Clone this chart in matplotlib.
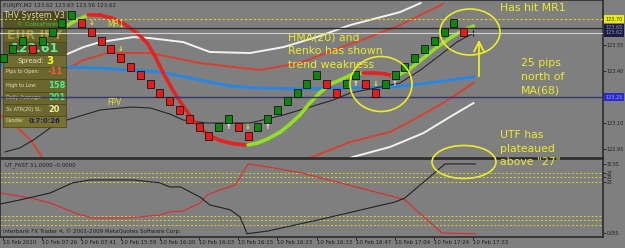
import matplotlib
matplotlib.use("Agg")
import matplotlib.pyplot as plt
from matplotlib.patches import Rectangle, Ellipse
from matplotlib.collections import LineCollection

plt.rcParams['font.family'] = ['DejaVu Sans']
NARROW = ['Liberation Sans Narrow', 'DejaVu Sans']

# ------------------------- data -------------------------

# renko bricks: mid price of each brick, G = up brick, R = down brick
brick_mid = [123.475, 123.525, 123.575, 123.525, 123.575, 123.625, 123.675, 123.725,
             123.675, 123.625, 123.575, 123.525, 123.475, 123.425, 123.375, 123.325,
             123.275, 123.225, 123.175, 123.125, 123.075, 123.025, 123.075, 123.125,
             123.075, 123.025, 123.075, 123.125, 123.175, 123.225, 123.275, 123.325,
             123.375, 123.325, 123.275, 123.325, 123.375, 123.325, 123.275, 123.325,
             123.375, 123.425, 123.475, 123.525, 123.575, 123.625, 123.675, 123.625]
brick_dir = "GGGRGGGGRRRRRRRRRRRRRRGGRRGGGGGGGRRGGRRGGGGGGGGR"

# small signal arrows next to the bricks (U = white up arrow, D = yellow down arrow)
arrow_bar = [9, 12, 23, 25, 27, 36, 38, 40]
arrow_dir = "DDUDUUDU"

# HMA(20), colour of each segment (G rising / R falling)
hma_x = [6.3, 7.3, 8.7, 9.9, 11.1, 12.4, 13.7, 14.7, 15.5, 16.3, 17.2, 18.1, 19.1,
         20.1, 21.1, 22.3, 23.7, 25.0, 26.0, 27.0, 28.3, 29.3, 30.3, 31.3, 32.3, 33.4,
         34.4, 35.7, 36.7, 38.0, 39.0, 39.8, 40.5, 41.5, 42.9, 44.3, 45.6, 46.8, 48.0]
hma_y = [123.654, 123.688, 123.723, 123.723, 123.706, 123.671, 123.619, 123.562, 123.487,
         123.394, 123.302, 123.221, 123.140, 123.071, 123.025, 122.996, 122.979, 122.973,
         122.985, 123.008, 123.048, 123.094, 123.146, 123.215, 123.273, 123.325, 123.348,
         123.383, 123.388, 123.388, 123.383, 123.371, 123.383, 123.412, 123.475, 123.538,
         123.590, 123.631, 123.660]
hma_trend = "GGRRRRRRRRRRRRRRRGGGGGGGGGGGRRRGGGGGGG"

# MA(68)
ma_x = [-0.3, 9.9, 16.0, 20.1, 23.2, 26.2, 30.3, 35.4, 39.5, 42.6, 45.6, 48.0]
ma_y = [123.435, 123.417, 123.394, 123.348, 123.313, 123.302, 123.296, 123.302,
        123.308, 123.325, 123.348, 123.365]

# envelope bands
up_white_x = [2.8, 6.3, 8.2, 9.9, 13.3, 15.0, 18.4, 21.1, 25.2, 28.6, 32.0, 35.4, 40.5, 42.6]
up_white_y = [123.377, 123.492, 123.538, 123.567, 123.596, 123.590, 123.567, 123.510,
              123.504, 123.538, 123.596, 123.665, 123.740, 123.792]
up_red_x = [2.8, 6.3, 8.2, 10.6, 15.0, 20.1, 26.2, 30.3, 33.7, 37.1, 40.5, 44.9]
up_red_y = [123.262, 123.406, 123.463, 123.504, 123.504, 123.446, 123.406, 123.446,
            123.521, 123.590, 123.665, 123.787]
lo_red_x = [29.3, 31.3, 35.4, 39.5, 42.2, 44.9, 48.0]
lo_red_y = [122.875, 122.898, 122.990, 123.048, 123.129, 123.215, 123.331]
lo_white_x = [34.4, 35.7, 39.5, 42.9, 45.6, 48.0]
lo_white_y = [122.875, 122.904, 122.962, 123.042, 123.135, 123.215]
left_red_x = [-0.3, 1.2, 2.8, 4.3]
left_red_y = [123.146, 123.088, 123.002, 122.875]

# thin dark trailing line
trail_x = [0.2, 1.7, 3.1, 4.8, 6.5, 9.9, 13.0, 15.0, 17.0, 18.4, 20.8, 25.2, 28.6,
           32.0, 33.7, 35.4, 38.0, 40.5, 42.6, 44.6, 46.3, 48.0]
trail_y = [122.933, 122.956, 123.002, 123.071, 123.117, 123.175, 123.192, 123.187,
           123.152, 123.117, 123.100, 123.100, 123.146, 123.204, 123.233, 123.273,
           123.302, 123.331, 123.406, 123.492, 123.567, 123.619]

# horizontal levels
mr1_level = 123.70
res_level = 123.65
bid_level = 123.62
fpv_level = 123.25
price_ticks = [122.95, 123.10, 123.40, 123.55]

# UT_FAST sub window
utf_x = [-0.3, 1.7, 4.8, 7.1, 8.9, 13.3, 16.0, 17.0, 18.1, 20.1, 21.1, 23.2, 24.2,
         24.9, 27.0, 32.1, 40.0, 41.0, 45.1, 48.2]
utf_y = [13.2, 15.0, 18.1, 22.6, 23.9, 23.9, 22.6, 20.8, 20.8, 16.3, 12.8, 10.6, 7.4,
         0.0, 1.2, 6.1, 14.1, 15.9, 31.0, 31.0]
sig_x = [-0.3, 2.8, 4.8, 7.6, 9.2, 12.7, 16.0, 17.0, 18.4, 20.1, 20.8, 22.1, 23.7,
         25.0, 27.0, 30.5, 40.0, 41.0, 44.8, 48.2]
sig_y = [18.1, 15.9, 13.7, 8.8, 7.0, 7.0, 8.3, 9.7, 10.1, 13.7, 17.2, 19.4, 21.7,
         31.0, 29.7, 27.0, 16.3, 15.0, 0.3, 0.0]
utf_levels = [27, 25, 23, 8, 6, 4]
utf_ticks = [31, 27, 25, 23, 0.3]
utf_tick_labels = ["32.55", "27", "25", "23", "0.055"]

time_ticks = list(range(0, 49, 4))
time_labels = ["10 Feb 2010", "10 Feb 07:26", "10 Feb 07:41", "10 Feb 15:59",
               "10 Feb 16:00", "10 Feb 16:03", "10 Feb 16:15", "10 Feb 16:23",
               "10 Feb 16:33", "10 Feb 16:47", "10 Feb 17:04", "10 Feb 17:24",
               "10 Feb 17:33"]

# ------------------------- figure -------------------------

BG = '#7f7f7f'
FRAME = '#2b2b2b'
YEL = '#ecec2a'
W, H = 625, 248

fig = plt.figure(figsize=(W / 100, H / 100), dpi=100, facecolor=BG)
ax = fig.add_axes([0, 90 / H, 603 / W, 158 / H], facecolor='none', zorder=1)
axl = fig.add_axes([0, 11 / H, 603 / W, 78 / H], facecolor='none', zorder=1)
over = fig.add_axes([0, 0, 1, 1], facecolor='none', zorder=5)
over.set_xlim(0, W)
over.set_ylim(H, 0)
over.axis('off')
px = over.transData   # pixel coordinates, origin top-left

for a in (ax, axl):
    a.set_xlim(-0.31, 61.22)
    for s in a.spines.values():
        s.set_color(FRAME)
        s.set_linewidth(1.2)
ax.set_ylim(122.898, 123.810)
axl.set_ylim(-1.44, 33.2)

# ---- main window: indicators
ax.plot(up_white_x, up_white_y, color='#f2f2f2', lw=1.4, zorder=2)
ax.plot(lo_white_x, lo_white_y, color='#f2f2f2', lw=1.4, zorder=2)
ax.plot(up_red_x, up_red_y, color='#d84030', lw=1.4, zorder=2)
ax.plot(lo_red_x, lo_red_y, color='#d84030', lw=1.4, zorder=2)
ax.plot(left_red_x, left_red_y, color='#d84030', lw=1.4, zorder=2)
ax.plot(ma_x, ma_y, color='#2a86e0', lw=2.2, zorder=2)
ax.plot(trail_x, trail_y, color='#262626', lw=0.8, zorder=2.2)
ax.plot(trail_x[-1], trail_y[-1], marker='+', color='#1a1a1a', ms=5, mew=0.8, zorder=2.2)

segs = [[(hma_x[i], hma_y[i]), (hma_x[i + 1], hma_y[i + 1])] for i in range(len(hma_x) - 1)]
cols = ['#92e024' if t == 'G' else '#e42222' for t in hma_trend]
ax.add_collection(LineCollection(segs, colors=cols, linewidths=2.6, capstyle='round', zorder=2.5))

# ---- info panel (above the indicator lines, under the bricks)
rows = [(11, 20, '#4a4720'), (20, 28, '#575425'), (28, 42, '#67632c'), (42, 55, '#5b5827'),
        (55, 67, '#716d32'), (67, 79, '#6a662e'), (79, 92, '#6a662e'), (92, 104, '#6a662e'),
        (104, 116, '#6a662e'), (116, 127, '#77732f')]
for y0, y1, c in rows:
    ax.add_patch(Rectangle((3, y0), 63, y1 - y0, transform=px, fc=c, ec='#4e4b22',
                           lw=0.6, zorder=3))

def ptext(x, y, s, **kw):
    kw.setdefault('va', 'center')
    kw.setdefault('zorder', 3.2)
    ax.text(x, y, s, transform=px, **kw)

ptext(34, 15.5, 'THV System V3', ha='center', color='#d6d6ae', fontsize=5.8)
ptext(38, 24, '\u00a9 CobraForex', ha='center', color='#3ccc3c', fontsize=4.3)
ptext(35, 35.5, 'EUR JPY', ha='center', color='#a29c30', fontsize=9, fontweight='bold')
ptext(35, 48.5, '123.61', ha='center', color='#5aefa0', fontsize=9, fontweight='bold')
ptext(17, 61, 'Spread:', ha='left', color='#e2e2c4', fontsize=5.0)
ptext(46, 61, '3', ha='left', color='#f6f620', fontsize=7.5, fontweight='bold')
info_rows = [(72, 'Pips to Open:', '-11', '#ff5a3a'),
             (85, 'High to Low:', '158', '#46f08a'),
             (98, 'Daily Average:', '201', '#46f08a'),
             (110, '3x ATR(20) SL:', '20', '#f2f2a6'),
             (121, 'Candle:', '0:7:0:26', '#1c1c5e')]
for y, lab, val, c in info_rows:
    ptext(6, y, lab, ha='left', color='#e2e2c4', fontsize=4.0, family=NARROW,
          fontstretch='condensed')
    xv = 29 if lab == 'Candle:' else 48
    ptext(xv, y, val, ha='left', color=c, fontsize=6.6 if lab != 'Candle:' else 5.4,
          fontweight='bold', family=NARROW, fontstretch='condensed')

# ---- horizontal levels
ax.axhline(mr1_level, color='#d6d620', lw=0.8, ls=(0, (2, 2)), zorder=3.5)
ax.axhline(res_level, color='#2e2e2e', lw=1.0, zorder=3.5)
ax.axhline(bid_level, color='#cfcfcf', lw=0.8, zorder=3.5)
ax.axhline(fpv_level, color='#34346e', lw=1.0, zorder=3.5)
ax.text(10.6, mr1_level - 0.008, 'MR1', color='#e0e030', fontsize=5.5, va='top', zorder=3.6)
ax.text(10.6, fpv_level - 0.008, 'FPV', color='#e0e030', fontsize=5.5, va='top', zorder=3.6)

# ---- renko bricks and arrows
for i, (m, d) in enumerate(zip(brick_mid, brick_dir)):
    ax.add_patch(Rectangle((i - 0.36, m - 0.0235), 0.72, 0.047,
                           fc='#0f850f' if d == 'G' else '#e41c1c', ec='#141414',
                           lw=0.6, zorder=4))
for b, d in zip(arrow_bar, arrow_dir):
    if d == 'U':
        ax.text(b, brick_mid[b] - 0.05, '\u2191', color='#f4f4f4', fontsize=5,
                fontweight='bold', ha='center', va='center', zorder=4.5)
    else:
        ax.text(b, brick_mid[b] + 0.05, '\u2193', color='#f0f020', fontsize=5,
                fontweight='bold', ha='center', va='center', zorder=4.5)

# ---- price scale
small = dict(family=NARROW, fontstretch='condensed')
ax.yaxis.tick_right()
ax.set_yticks(price_ticks)
ax.set_yticklabels([f'{v:.2f}' for v in price_ticks], **small)
ax.tick_params(axis='y', direction='out', length=2, width=0.6, colors='#1e1e1e',
               labelsize=4.0, pad=0.5)
ax.set_xticks([])
yt = ax.get_yaxis_transform()
box = dict(transform=yt, va='center', ha='left', fontsize=4.0, clip_on=False, **small)
ax.text(1.004, mr1_level, '123.70', color='#303030',
        bbox=dict(boxstyle='square,pad=0.25', fc='#ecec10', ec='none'), **box)
ax.text(1.004, 123.635, '123.65\n123.62', color='#9a9ab8', linespacing=1.0,
        bbox=dict(boxstyle='square,pad=0.25', fc='#1c1c48', ec='none'), **box)
ax.text(1.004, fpv_level, '123.25', color='#a8a8e8',
        bbox=dict(boxstyle='square,pad=0.25', fc='#2a2ad0', ec='none'), **box)

# ---- UT_FAST window
for lv in utf_levels:
    axl.axhline(lv, color='#d6d620', lw=0.7, ls=(0, (2, 2)), zorder=1)
axl.plot(sig_x, sig_y, color='#e02a2a', lw=0.8, zorder=2)
axl.plot(utf_x, utf_y, color='#222222', lw=0.8, zorder=2.1)
axl.yaxis.tick_right()
axl.set_yticks(utf_ticks)
axl.set_yticklabels(utf_tick_labels, **small)
axl.tick_params(axis='y', direction='out', length=2, width=0.6, colors='#1e1e1e',
                labelsize=3.6, pad=0.5)
axl.set_xticks(time_ticks)
axl.set_xticklabels(time_labels, **small)
axl.tick_params(axis='x', direction='out', length=2, width=0.6, colors='#1e1e1e',
                labelsize=4.3, pad=0.5)
for lbl in axl.get_xticklabels():
    lbl.set_horizontalalignment('left')
axl.text(0.008, 0.92, 'UT_FAST 31.0000 -0.0000', transform=axl.transAxes, va='center',
         fontsize=4.4, color='#202020', **small)
axl.text(0.005, 0.07, 'Interbank FX Trader 4, \u00a9 2001-2009 MetaQuotes Software Corp.',
         transform=axl.transAxes, va='center', fontsize=4.4, color='#202020', **small)

# ---- window title
ax.text(0.005, 0.966, 'EURJPY,M2 123.62 123.63 123.56 123.62', transform=ax.transAxes,
        va='center', fontsize=4.4, color='#202020', zorder=5, **small)

# ---- yellow hand-drawn annotations (pixel coordinates)
for cx, cy, w, h in [(381, 84, 62, 55), (470, 32, 60, 46), (464, 162, 64, 33)]:
    over.add_patch(Ellipse((cx, cy), w, h, fill=False, ec=YEL, lw=1.2))
over.annotate('', xy=(479, 37), xytext=(479, 79),
              arrowprops=dict(arrowstyle='->,head_width=0.35,head_length=0.7', color=YEL, lw=1.3))
note = dict(color=YEL, fontsize=7.8, ha='left', va='center', linespacing=1.45)
over.text(288, 51.5, 'HMA(20) and\nRenko has shown\ntrend weakness', **note)
over.text(500, 8, 'Has hit MR1', **note)
over.text(521, 77, '25 pips\nnorth of\nMA(68)', **note)
over.text(500, 148.5, 'UTF has\nplateaued\nabove "27"', **note)

fig.savefig('out.png', dpi=100, facecolor=BG)
